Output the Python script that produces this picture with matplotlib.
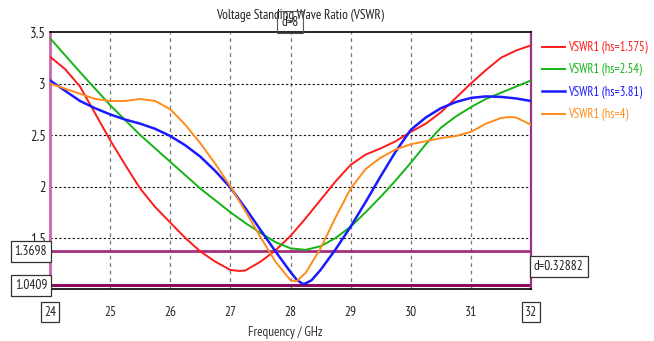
import matplotlib
matplotlib.use("Agg")
import matplotlib.pyplot as plt

plt.rcParams['font.family'] = ['PT Sans Narrow', 'DejaVu Sans']
plt.rcParams['font.stretch'] = 'condensed'

# ---- data ----
x_red = [24, 24.25, 24.5, 24.75, 25, 25.25, 25.5, 25.75, 26, 26.25, 26.5, 26.75, 27, 27.15, 27.25,
         27.5, 27.75, 28, 28.25, 28.5, 28.75, 29, 29.25, 29.5, 29.75, 30, 30.25, 30.5, 30.75, 31,
         31.25, 31.5, 31.75, 32]
y_red = [3.26, 3.14, 2.97, 2.71, 2.45, 2.21, 1.98, 1.80, 1.65, 1.50, 1.37, 1.27, 1.19, 1.18, 1.185,
         1.27, 1.38, 1.52, 1.69, 1.87, 2.05, 2.21, 2.31, 2.37, 2.44, 2.53, 2.61, 2.72, 2.86, 3.00,
         3.13, 3.25, 3.32, 3.37]

x_green = [24, 24.5, 25, 25.5, 26, 26.5, 27, 27.25, 27.5, 27.75, 28, 28.25, 28.5, 28.75, 29, 29.25,
           29.5, 29.75, 30, 30.25, 30.5, 30.75, 31, 31.25, 31.5, 31.75, 32]
y_green = [3.44, 3.11, 2.79, 2.50, 2.24, 1.98, 1.75, 1.645, 1.55, 1.46, 1.40, 1.385, 1.42, 1.50, 1.61, 1.75,
           1.90, 2.06, 2.23, 2.41, 2.57, 2.68, 2.77, 2.85, 2.91, 2.97, 3.03]

x_blue = [24, 24.25, 24.5, 24.75, 25, 25.25, 25.5, 25.75, 26, 26.25, 26.5, 26.75, 27, 27.25, 27.5,
          27.75, 28, 28.11, 28.22, 28.35, 28.5, 28.75, 29, 29.25, 29.5, 29.75, 30, 30.25, 30.5, 30.75,
          31, 31.25, 31.5, 31.75, 32]
y_blue = [3.03, 2.93, 2.83, 2.76, 2.70, 2.65, 2.61, 2.56, 2.49, 2.40, 2.29, 2.15, 1.99, 1.79, 1.58,
          1.37, 1.17, 1.09, 1.05, 1.09, 1.19, 1.39, 1.61, 1.85, 2.10, 2.34, 2.55, 2.67, 2.76, 2.82,
          2.86, 2.875, 2.87, 2.855, 2.83]

x_orange = [24, 24.25, 24.5, 24.75, 25, 25.25, 25.5, 25.75, 26, 26.25, 26.5, 26.75, 27, 27.25, 27.5,
            27.75, 28, 28.1, 28.25, 28.5, 28.75, 29, 29.25, 29.5, 29.75, 30, 30.25, 30.5, 30.75, 31,
            31.25, 31.5, 31.65, 31.75, 32]
y_orange = [3.00, 2.95, 2.90, 2.85, 2.83, 2.83, 2.85, 2.83, 2.75, 2.60, 2.42, 2.22, 2.00, 1.76, 1.51,
            1.27, 1.09, 1.08, 1.16, 1.40, 1.70, 1.98, 2.17, 2.28, 2.36, 2.41, 2.44, 2.47, 2.49, 2.53,
            2.61, 2.665, 2.675, 2.67, 2.60]

labels = ["VSWR1 (hs=1.575)", "VSWR1 (hs=2.54)", "VSWR1 (hs=3.81)", "VSWR1 (hs=4)"]
colors = ["#ff1a1a", "#16b316", "#1a1aff", "#ff8c1a"]

x_ticks = [24, 25, 26, 27, 28, 29, 30, 31, 32]
y_ticks = [1.5, 2, 2.5, 3, 3.5]
y_tick_labels = ["1.5", "2", "2.5", "3", "3.5"]
marker_y = [1.3698, 1.0409]
marker_labels = ["1.3698", "1.0409"]
delta_label = "d=0.32882"
top_label = "d=8"

FS = 9.5

fig = plt.figure(figsize=(6.54, 3.41), dpi=100)
ax = fig.add_axes([50/654, 1-289/341, 481/654, 257/341])

series = [(x_red, y_red), (x_green, y_green), (x_blue, y_blue), (x_orange, y_orange)]
widths = [1.4, 1.4, 1.8, 1.4]
handles = []
for (xs, ys), c, lab, w in zip(series, colors, labels, widths):
    h, = ax.plot(xs, ys, color=c, lw=w, label=lab, solid_joinstyle='round', zorder=3)
    handles.append(h)

ax.set_xlim(24, 32)
ax.set_ylim(1.005, 3.5)
ax.set_xticks(x_ticks)
ax.set_yticks(y_ticks)
ax.set_yticklabels(y_tick_labels)
ax.tick_params(axis='x', length=0, labelsize=FS, colors='#222222', pad=12)
ax.tick_params(axis='y', length=0, labelsize=10.5, colors='#222222', pad=3)

# grid
for xv in x_ticks[1:-1]:
    ax.axvline(xv, color='#777777', ls=(0, (3, 3)), lw=0.9, zorder=1)
for yv in y_ticks[:-1]:
    ax.axhline(yv, color='#111111', ls=(0, (2, 2)), lw=0.8, zorder=1)

# spines
for s in ['top', 'bottom']:
    ax.spines[s].set_color('black')
    ax.spines[s].set_linewidth(1.2)
ax.spines['left'].set_color('#cc66aa')
ax.spines['left'].set_linewidth(2)
ax.spines['right'].set_color('#993388')
ax.spines['right'].set_linewidth(1.6)

# marker lines
ax.axhline(marker_y[0], color='#a3307a', lw=2, zorder=2)
ax.axhline(marker_y[1], color='#8e0a5c', lw=2.2, zorder=2)

box = dict(boxstyle='square,pad=0.3', fc='white', ec='#333333', lw=0.9)
for yv, lab in zip(marker_y, marker_labels):
    ax.text(-0.006, yv, lab, transform=ax.get_yaxis_transform(), ha='right', va='center',
            fontsize=FS, bbox=box, color='#222222', zorder=5, clip_on=False)
ax.text(1.006, (marker_y[0] + marker_y[1]) / 2 + 0.02, delta_label, transform=ax.get_yaxis_transform(),
        ha='left', va='center', fontsize=FS, bbox=box, color='#222222', clip_on=False)

# boxed end tick labels
for lbl in ax.get_xticklabels():
    if lbl.get_text() in ('24', '32'):
        lbl.set_bbox(dict(boxstyle='square,pad=0.25', fc='white', ec='#333333', lw=0.9))

ax.set_xlabel("Frequency / GHz", fontsize=FS, color='#333333')
ax.xaxis.set_label_coords(0.49, -0.145)

fig.text(300/654, 1-15/341, "Voltage Standing Wave Ratio (VSWR)", ha='center', va='center',
         fontsize=FS, color='#222222')
fig.text(290/654, 1-22/341, top_label, ha='center', va='center', fontsize=FS, color='#222222',
         bbox=dict(boxstyle='square,pad=0.35', fc='none', ec='#555555', lw=0.8))

leg = fig.legend(handles=handles, loc='upper left', bbox_to_anchor=(537/654, 1-36/341),
                 frameon=False, fontsize=9, labelcolor='linecolor', handlelength=1.8,
                 handletextpad=0.3, labelspacing=0.75, borderaxespad=0)

fig.savefig("out.png", dpi=100)
